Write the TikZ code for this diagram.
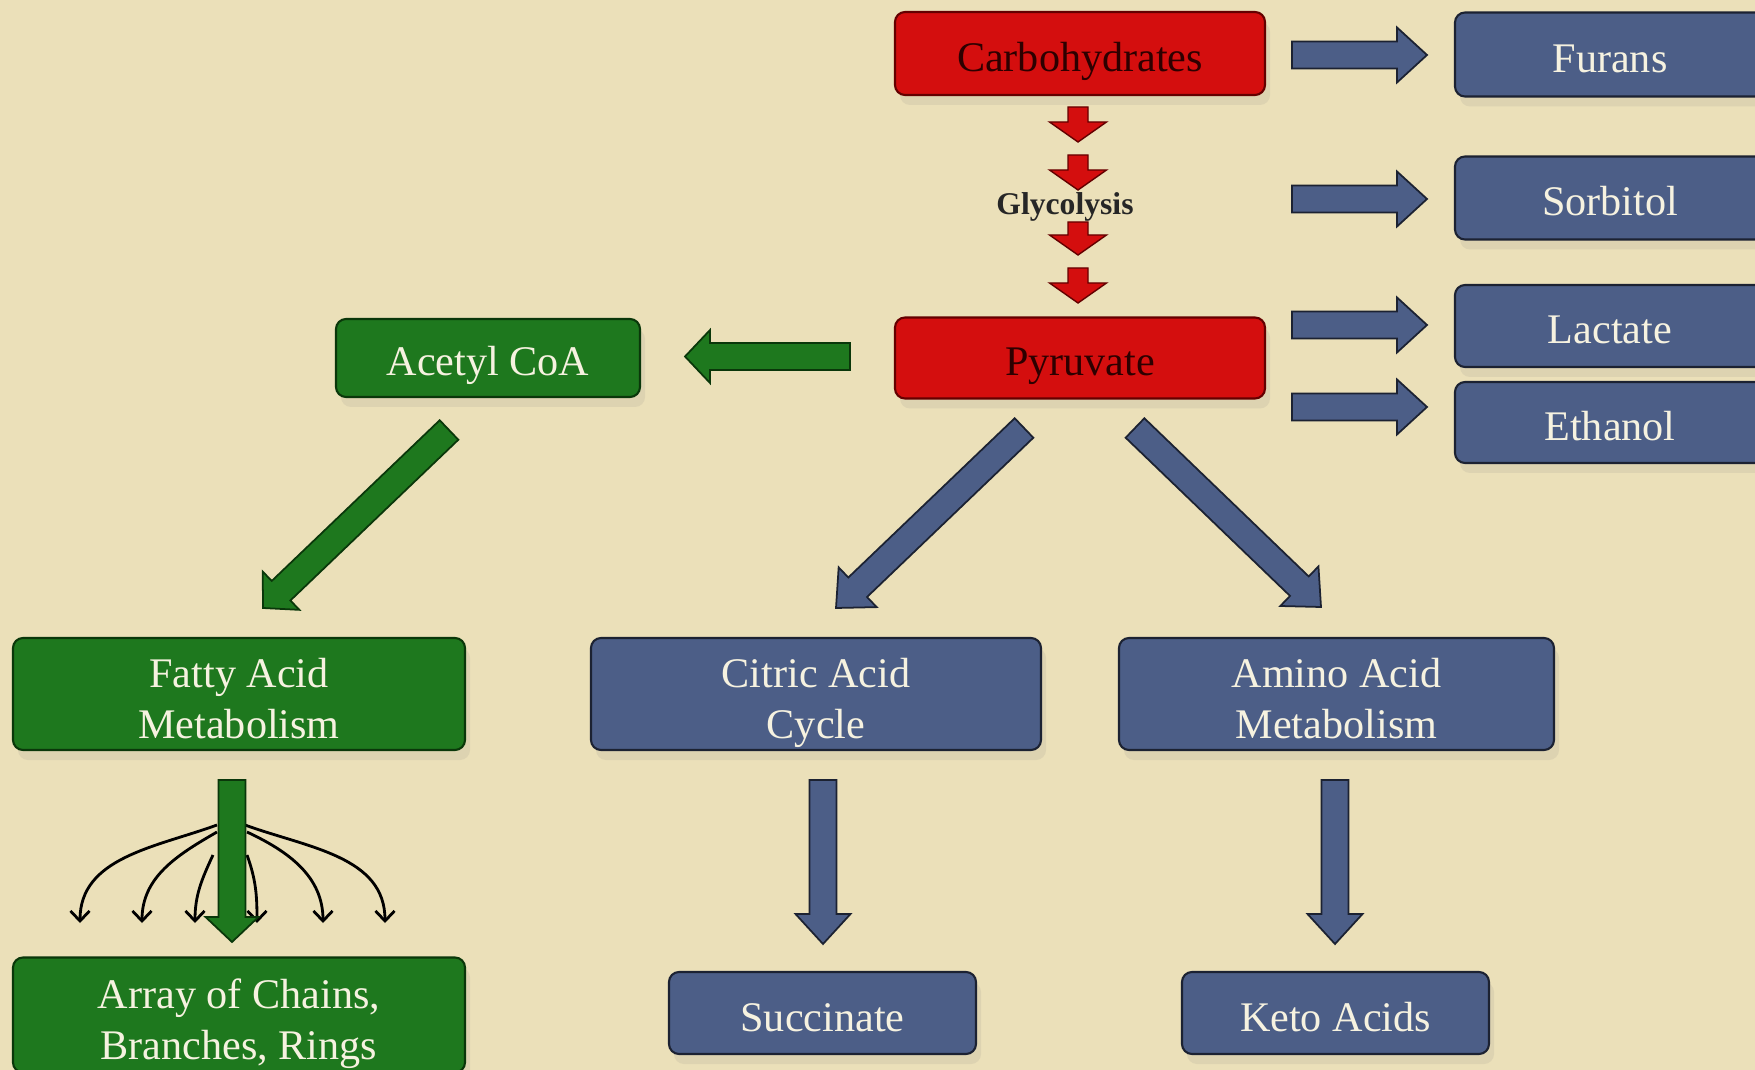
\documentclass[tikz,border=0pt]{standalone}
\usepackage{fontspec}
\setmainfont{Liberation Serif}
\usetikzlibrary{calc,arrows.meta,shadows}

\definecolor{bg}{RGB}{235,224,185}
\definecolor{redface}{RGB}{212,14,14}
\definecolor{reddark}{RGB}{100,0,0}
\definecolor{redtext}{RGB}{45,0,0}
\definecolor{blueface}{RGB}{76,94,135}
\definecolor{bluedark}{RGB}{28,34,50}
\definecolor{greenface}{RGB}{30,120,30}
\definecolor{greendark}{RGB}{10,55,10}
\definecolor{boxtext}{RGB}{246,242,224}

\newcommand{\boxtextfont}{\fontsize{24}{29}\selectfont}
\newcommand{\topgap}{\rule{0pt}{0.92cm}}
\newcommand{\tallgap}{\rule{0pt}{1.96cm}}
\newcommand{\botgap}{\rule[-0.2cm]{0pt}{0pt}}

\tikzset{
	box/.style={rounded corners=0.2cm, line width=1.2pt, align=center, font=\boxtextfont, inner sep=0pt,
		execute at begin node=\topgap, execute at end node=\botgap,
		drop shadow={opacity=0.13, shadow xshift=0.1cm, shadow yshift=-0.2cm}},
	twoline/.style={execute at begin node=\tallgap},
	redbox/.style={box, draw=reddark, fill=redface, text=redtext},
	bluebox/.style={box, draw=bluedark, fill=blueface, text=boxtext},
	greenbox/.style={box, draw=greendark, fill=greenface, text=boxtext},
	blockarrow/.style n args={3}{to path={
		($(\tikztostart)!#1!90:(\tikztotarget)$)
		-- ($($(\tikztotarget)!#3!(\tikztostart)$)!#1!90:(\tikztotarget)$)
		-- ($($(\tikztotarget)!#3!(\tikztostart)$)!#2!90:(\tikztotarget)$)
		-- (\tikztotarget)
		-- ($($(\tikztotarget)!#3!(\tikztostart)$)!#2!-90:(\tikztotarget)$)
		-- ($($(\tikztotarget)!#3!(\tikztostart)$)!#1!-90:(\tikztotarget)$)
		-- ($(\tikztostart)!#1!-90:(\tikztotarget)$)
		-- cycle}},
	bluearrow/.style={blockarrow={0.27cm}{0.55cm}{0.6cm}, draw=bluedark, fill=blueface, line width=1pt},
	greenarrow/.style={blockarrow={0.27cm}{0.53cm}{0.5cm}, draw=greendark, fill=greenface, line width=1pt},
	redarrow/.style={blockarrow={0.2cm}{0.57cm}{0.4cm}, draw=reddark, fill=redface, line width=0.8pt},
	branch/.style={-{Straight Barb[length=0.2cm,width=0.38cm]}, line width=1.6pt, black},
}

\begin{document}
\begin{tikzpicture}
	\useasboundingbox (0,0) rectangle (35.1,-21.4);
	\fill[bg] (0,0) rectangle (35.1,-21.4);

	\node[redbox, minimum width=7.4cm, minimum height=1.66cm] (carb) at (21.6,-1.07) {Carbohydrates};
	\node[redbox, minimum width=7.4cm, minimum height=1.62cm] (pyr) at (21.6,-7.16) {Pyruvate};
	\node[font=\fontsize{18}{20}\selectfont\bfseries, text=black!85] (glyc) at (21.3,-4.14) {Glycolysis};
	\node[bluebox, minimum width=6.2cm, minimum height=1.68cm] (furans) at (32.2,-1.09) {Furans};
	\node[bluebox, minimum width=6.2cm, minimum height=1.66cm] (sorb) at (32.2,-3.96) {Sorbitol};
	\node[bluebox, minimum width=6.2cm, minimum height=1.64cm] (lact) at (32.2,-6.52) {Lactate};
	\node[bluebox, minimum width=6.2cm, minimum height=1.62cm] (eth) at (32.2,-8.45) {Ethanol};
	\node[greenbox, minimum width=6.08cm, minimum height=1.56cm] (acetyl) at (9.76,-7.16) {Acetyl CoA};
	\node[greenbox, twoline, minimum width=9.04cm, minimum height=2.24cm] (fatty) at (4.78,-13.88) {Fatty Acid\\Metabolism};
	\node[bluebox, twoline, minimum width=9.0cm, minimum height=2.24cm] (citric) at (16.32,-13.88) {Citric Acid\\Cycle};
	\node[bluebox, twoline, minimum width=8.7cm, minimum height=2.24cm] (amino) at (26.73,-13.88) {Amino Acid\\Metabolism};
	\node[greenbox, twoline, minimum width=9.04cm, minimum height=2.3cm] (array) at (4.78,-20.3) {Array of Chains,\\Branches, Rings};
	\node[bluebox, minimum width=6.14cm, minimum height=1.64cm] (succ) at (16.45,-20.26) {Succinate};
	\node[bluebox, minimum width=6.14cm, minimum height=1.64cm] (keto) at (26.71,-20.26) {Keto Acids};

	\coordinate (g1) at (21.56,-2.14);
	\coordinate (g2) at (21.56,-2.84);
	\coordinate (g3) at (21.56,-3.1);
	\coordinate (g4) at (21.56,-3.8);
	\coordinate (g5) at (21.56,-4.44);
	\coordinate (g6) at (21.56,-5.1);
	\coordinate (g7) at (21.56,-5.36);
	\coordinate (g8) at (21.56,-6.06);
	\coordinate (f0) at (25.84,-1.1);
	\coordinate (f1) at (28.54,-1.1);
	\coordinate (s0) at (25.84,-3.98);
	\coordinate (s1) at (28.54,-3.98);
	\coordinate (l0) at (25.84,-6.5);
	\coordinate (l1) at (28.54,-6.5);
	\coordinate (e0) at (25.84,-8.14);
	\coordinate (e1) at (28.54,-8.14);
	\coordinate (a0) at (17.0,-7.13);
	\coordinate (a1) at (13.7,-7.13);
	\coordinate (a2) at (8.98,-8.6);
	\coordinate (a3) at (5.26,-12.16);
	\coordinate (p0) at (20.48,-8.56);
	\coordinate (p1) at (16.72,-12.16);
	\coordinate (p2) at (22.7,-8.56);
	\coordinate (p3) at (26.42,-12.14);
	\coordinate (c0) at (16.46,-15.6);
	\coordinate (c1) at (16.46,-18.88);
	\coordinate (m0) at (26.7,-15.6);
	\coordinate (m1) at (26.7,-18.88);
	\coordinate (b0) at (4.64,-15.6);
	\coordinate (b1) at (4.64,-18.84);
	\coordinate (o1) at (4.34,-16.5);
	\coordinate (o2) at (4.34,-16.64);
	\coordinate (o3) at (4.26,-17.1);
	\coordinate (o4) at (4.94,-17.1);
	\coordinate (o5) at (4.94,-16.64);
	\coordinate (o6) at (4.9,-16.5);
	\coordinate (t1) at (1.6,-18.46);
	\coordinate (t2) at (2.84,-18.46);
	\coordinate (t3) at (3.9,-18.46);
	\coordinate (t4) at (5.14,-18.46);
	\coordinate (t5) at (6.46,-18.46);
	\coordinate (t6) at (7.7,-18.46);

	\draw[redarrow] (g1) to (g2);
	\draw[redarrow] (g3) to (g4);
	\draw[redarrow] (g5) to (g6);
	\draw[redarrow] (g7) to (g8);
	\draw[bluearrow] (f0) to (f1);
	\draw[bluearrow] (s0) to (s1);
	\draw[bluearrow] (l0) to (l1);
	\draw[bluearrow] (e0) to (e1);
	\draw[greenarrow] (a0) to (a1);
	\draw[greenarrow] (a2) to (a3);
	\draw[bluearrow] (p0) to (p1);
	\draw[bluearrow] (p2) to (p3);
	\draw[bluearrow] (c0) to (c1);
	\draw[bluearrow] (m0) to (m1);
	\draw[branch] (o1) to[out=200, in=90] (t1);
	\draw[branch] (o2) to[out=210, in=90] (t2);
	\draw[branch] (o3) to[out=245, in=90] (t3);
	\draw[branch] (o4) to[out=-70, in=90] (t4);
	\draw[branch] (o5) to[out=-25, in=90] (t5);
	\draw[branch] (o6) to[out=-20, in=90] (t6);
	\draw[greenarrow] (b0) to (b1);
\end{tikzpicture}
\end{document}
